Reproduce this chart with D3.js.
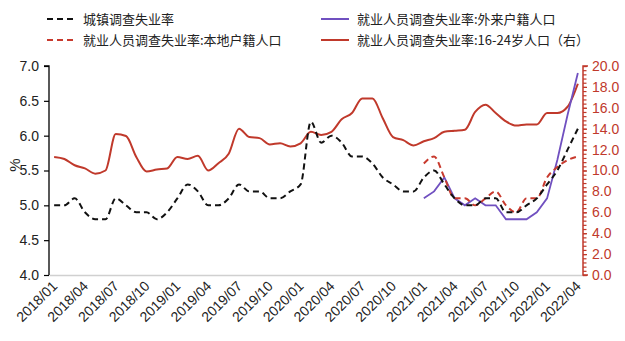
<!DOCTYPE html>
<html><head><meta charset="utf-8">
<script src="https://cdn.jsdelivr.net/npm/d3@7"></script>
<style>
body{margin:0;background:#fff;}
svg{display:block;font-family:"Liberation Sans",Arial,Helvetica,sans-serif;}
.leg{font-family:"Noto Sans CJK SC","Liberation Sans",sans-serif;font-size:13px;fill:#222;}
</style></head>
<body><svg id="c" width="625" height="341"></svg>
<script>
const months = [];
for (let y = 2018; y <= 2022; y++) for (let m = 1; m <= 12; m++) { if (y === 2022 && m > 4) break; months.push(y + "/" + String(m).padStart(2, "0")); }
const tickLabels = months.filter((d, i) => i % 3 === 0);

const urban = [5.0,5.0,5.1,4.9,4.8,4.8,5.1,5.0,4.9,4.9,4.8,4.9,
  5.1,5.3,5.2,5.0,5.0,5.1,5.3,5.2,5.2,5.1,5.1,5.2,
  5.3,6.2,5.9,6.0,5.9,5.7,5.7,5.6,5.4,5.3,5.2,5.2,
  5.4,5.5,5.3,5.1,5.0,5.0,5.1,5.1,4.9,4.9,5.0,5.1,
  5.3,5.5,5.8,6.1];
const youth = [11.3,11.1,10.5,10.2,9.7,10.0,13.5,13.3,11.3,9.9,10.1,10.2,
  11.3,11.1,11.4,10.0,10.7,11.6,14.0,13.2,13.1,12.5,12.6,12.3,
  12.6,13.7,13.4,13.7,14.9,15.5,16.9,16.9,15.0,13.2,12.9,12.4,
  12.8,13.1,13.7,13.8,13.9,15.6,16.3,15.5,14.7,14.3,14.4,14.4,
  15.5,15.5,16.1,18.3];
const localStart = "2021/01";
const local = [5.6,5.7,5.4,5.1,5.1,5.0,5.1,5.2,5.0,4.9,5.1,5.1,5.4,5.55,5.65,5.7];
const migrant = [5.1,5.2,5.4,5.1,5.0,5.1,5.0,5.0,4.8,4.8,4.8,4.9,5.1,5.65,6.3,6.9];
const leftTicks = [4.0,4.5,5.0,5.5,6.0,6.5,7.0];
const rightTicks = [0,2,4,6,8,10,12,14,16,18,20];

const names = ["城镇调查失业率","就业人员调查失业率:外来户籍人口","就业人员调查失业率:本地户籍人口","就业人员调查失业率:16-24岁人口（右）"];
const BLACK = "#111", RED = "#c0392b", REDD = "#c83a2e", PURPLE = "#7050c0";

const svg = d3.select("#c");
const L = 49, R = 583, T = 66, B = 275;
const x = d3.scaleBand().domain(months).range([L, R]);
const cx = d => x(d) + x.bandwidth() / 2;
const yL = d3.scaleLinear().domain([4, 7]).range([B, T]);
const yR = d3.scaleLinear().domain([0, 20]).range([B, T]);

// bottom axis
const gx = svg.append("g").attr("transform", `translate(0,${B})`)
  .call(d3.axisBottom(x).tickValues(tickLabels).tickSize(0).tickPadding(0));
gx.select(".domain").attr("stroke", "#d0d0d0").attr("stroke-width", 1.5);
gx.selectAll("text").attr("font-size", 14).attr("fill", "#222")
  .attr("text-anchor", "end").attr("dy", null).attr("y", 0)
  .attr("transform", "translate(4,12) rotate(-45)");

// left axis
const gl = svg.append("g").attr("transform", `translate(${L},0)`)
  .call(d3.axisLeft(yL).tickValues(leftTicks).tickFormat(d3.format(".1f")).tickSize(5).tickPadding(5));
gl.select(".domain").attr("stroke", "#000").attr("stroke-width", 1.3);
gl.selectAll(".tick line").attr("stroke", "#000").attr("stroke-width", 1.2);
gl.selectAll("text").attr("font-size", 14).attr("fill", "#222");
gl.select(".domain").attr("d", `M-5,${T}H0V${B}`);

svg.append("text").attr("transform", `translate(20,165) rotate(-90)`)
  .attr("text-anchor", "middle").attr("font-size", 15).attr("fill", "#222").text("%");

// right axis
const gr = svg.append("g").attr("transform", `translate(${R},0)`);
gr.call(d3.axisRight(yR).tickValues(d3.range(0, 20.001, 0.4)).tickFormat("").tickSize(3.5));
gr.selectAll("line").attr("stroke", RED).attr("stroke-width", 1.2);
gr.select(".domain").remove();
const gr2 = svg.append("g").attr("transform", `translate(${R},0)`)
  .call(d3.axisRight(yR).tickValues(rightTicks).tickFormat(d3.format(".1f")).tickSize(4).tickPadding(5));
gr2.select(".domain").attr("stroke", RED).attr("stroke-width", 1.5).attr("d", `M5,${T}H0V${B}H5`);
gr2.selectAll(".tick line").attr("stroke", RED).attr("stroke-width", 1.2);
gr2.selectAll("text").attr("font-size", 14).attr("fill", RED);

// lines
const s0 = months.indexOf(localStart);
const lineL = d3.line().x(d => cx(d.m)).y(d => yL(d.v));
const lineR = d3.line().x(d => cx(d.m)).y(d => yR(d.v));
const ser = arr => arr.map((v, i) => ({ m: months[i], v }));
const serS = arr => arr.map((v, i) => ({ m: months[s0 + i], v }));

svg.append("path").datum(ser(youth)).attr("fill", "none").attr("stroke", RED).attr("stroke-width", 2)
  .attr("d", lineR.curve(d3.curveMonotoneX));
svg.append("path").datum(serS(migrant)).attr("fill", "none").attr("stroke", PURPLE).attr("stroke-width", 1.8)
  .attr("d", lineL.curve(d3.curveLinear));
svg.append("path").datum(serS(local)).attr("fill", "none").attr("stroke", REDD).attr("stroke-width", 2)
  .attr("stroke-dasharray", "6,4").attr("d", lineL.curve(d3.curveMonotoneX));
svg.append("path").datum(ser(urban)).attr("fill", "none").attr("stroke", BLACK).attr("stroke-width", 2)
  .attr("stroke-dasharray", "6,4").attr("d", lineL.curve(d3.curveMonotoneX));

// legend
const leg = [
  { n: names[0], c: BLACK, dash: "6,4", x: 47, y: 19 },
  { n: names[1], c: PURPLE, dash: null, x: 321, y: 19 },
  { n: names[2], c: REDD, dash: "6,4", x: 47, y: 40 },
  { n: names[3], c: RED, dash: null, x: 321, y: 40 }
];
leg.forEach(l => {
  svg.append("line").attr("x1", l.x).attr("x2", l.x + 28).attr("y1", l.y).attr("y2", l.y)
    .attr("stroke", l.c).attr("stroke-width", 2).attr("stroke-dasharray", l.dash);
  svg.append("text").attr("class", "leg").attr("x", l.x + 36).attr("y", l.y).attr("dy", "0.35em").text(l.n);
});
</script></body></html>
